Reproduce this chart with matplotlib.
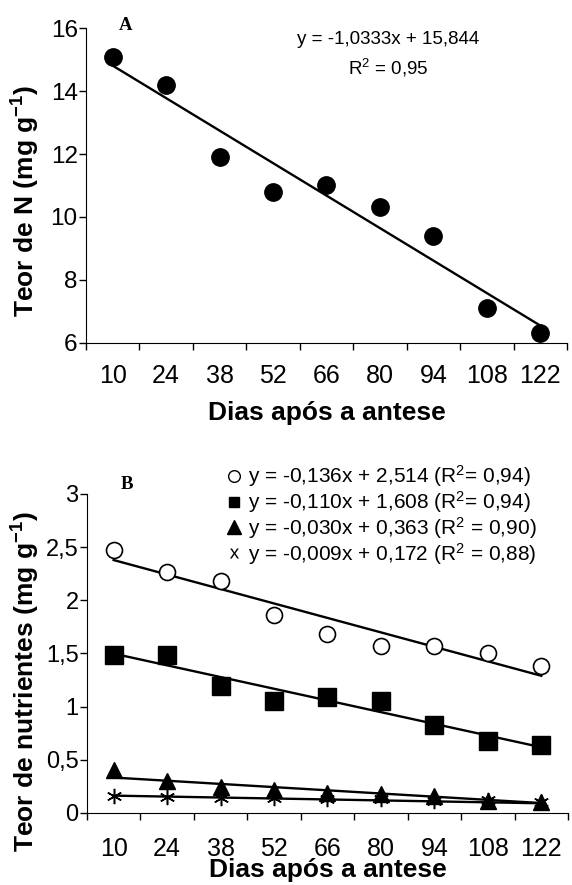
import numpy as np
import matplotlib
matplotlib.use("Agg")
import matplotlib.pyplot as plt
from matplotlib.lines import Line2D
from matplotlib.transforms import ScaledTranslation

plt.rcParams['font.family'] = ['Liberation Sans', 'DejaVu Sans']
plt.rcParams['mathtext.fontset'] = 'custom'
plt.rcParams['mathtext.rm'] = 'Liberation Sans'
plt.rcParams['mathtext.sf'] = 'Liberation Sans'
plt.rcParams['mathtext.it'] = 'Liberation Sans'
plt.rcParams['mathtext.bf'] = 'Liberation Sans:bold'

# days after anthesis (categories)
dias = ['10', '24', '38', '52', '66', '80', '94', '108', '122']

# panel A - N content
teor_n = [15.1, 14.2, 11.9, 10.8, 11.0, 10.3, 9.4, 7.1, 6.3]
eq_n = (-1.0333, 15.844)

# panel B - other nutrients
serie_circ = [2.47, 2.27, 2.18, 1.86, 1.68, 1.57, 1.57, 1.50, 1.38]
serie_quad = [1.49, 1.49, 1.19, 1.055, 1.09, 1.055, 0.83, 0.68, 0.635]
serie_tri = [0.40, 0.30, 0.24, 0.22, 0.19, 0.18, 0.16, 0.11, 0.10]
serie_ast = [0.16, 0.15, 0.14, 0.14, 0.13, 0.13, 0.11, 0.12, 0.10]
eq_circ = (-0.136, 2.514)
eq_quad = (-0.110, 1.608)
eq_tri = (-0.030, 0.363)
eq_ast = (-0.009, 0.172)
leg_txt = ['y = -0,136x + 2,514 (R$^2$= 0,94)',
           'y = -0,110x + 1,608 (R$^2$= 0,94)',
           'y = -0,030x + 0,363 (R$^2$ = 0,90)',
           'y = -0,009x + 0,172 (R$^2$ = 0,88)']

n = len(dias)
pos = np.arange(n) + 0.5
xnum = np.arange(1, n + 1)

fig = plt.figure(figsize=(5.72, 8.85), dpi=100)
shift = ScaledTranslation(4 / 100, 0, fig.dpi_scale_trans)


def style_axis(ax, ylim, yticks, yticklabels, ylabel, pad_x, ysize):
    ax.set_xlim(0, n)
    ax.set_ylim(*ylim)
    ax.spines['top'].set_visible(False)
    ax.spines['right'].set_visible(False)
    ax.set_xticks(np.arange(n + 1))
    ax.set_xticklabels([])
    ax.set_xticks(pos, minor=True)
    ax.set_xticklabels(dias, minor=True, fontsize=18)
    for lab in ax.get_xticklabels(minor=True):
        lab.set_transform(lab.get_transform() + shift)
    ax.tick_params(axis='x', which='minor', length=0, pad=pad_x)
    ax.tick_params(axis='x', which='major', length=5, width=1, direction='out')
    ax.set_yticks(yticks)
    ax.set_yticklabels(yticklabels, fontsize=ysize)
    ax.tick_params(axis='y', length=5, width=1, direction='out', pad=1)
    ax.set_ylabel(ylabel, fontsize=19, fontweight='bold')
    ax.set_xlabel('Dias após a antese', fontsize=19, fontweight='bold')


def reg_line(ax, eq):
    a, b = eq
    ax.plot([pos[0], pos[-1]], [a * xnum[0] + b, a * xnum[-1] + b],
            color='black', lw=1.7, zorder=2)


# ---- panel A ----
axA = fig.add_axes([0.1503, 0.6128, 0.8409, 0.3553])
axA.plot(pos, teor_n, 'o', color='black', ms=12.5, zorder=3)
reg_line(axA, eq_n)
style_axis(axA, (6, 16), [6, 8, 10, 12, 14, 16],
           ['6', '8', '10', '12', '14', '16'],
           r'Teor de N (mg g$^{\mathbf{-1}}$)', 15, 17.5)
axA.xaxis.labelpad = 10
axA.yaxis.set_label_coords(-0.0915, 0.45)
axA.text(0.069, 1.01, 'A', transform=axA.transAxes, fontsize=13.5,
         fontweight='bold', family='Liberation Serif', ha='left', va='center')
axA.text(0.628, 0.963, 'y = -1,0333x + 15,844', transform=axA.transAxes,
         fontsize=13.5, ha='center', va='center')
axA.text(0.628, 0.874, 'R$^2$ = 0,95', transform=axA.transAxes,
         fontsize=13.5, ha='center', va='center')

# ---- panel B ----
axB = fig.add_axes([0.152, 0.0814, 0.841, 0.3605])
axB.plot(pos, serie_circ, 'o', mfc='white', mec='black', mew=1.2,
         ms=11.5, zorder=3)
axB.plot(pos, serie_quad, 's', color='black', ms=12.5, zorder=3)
axB.plot(pos, serie_tri, '^', color='black', ms=11.3, zorder=3)
axB.plot(pos, serie_ast, marker=(6, 2, 0), ls='none', color='black',
         ms=11, mew=1.1, zorder=3)
for eq in (eq_circ, eq_quad, eq_tri, eq_ast):
    reg_line(axB, eq)
style_axis(axB, (0, 3), [0, 0.5, 1, 1.5, 2, 2.5, 3],
           ['0', '0,5', '1', '1,5', '2', '2,5', '3'],
           r'Teor de nutrientes (mg g$^{\mathbf{-1}}$)', 17, 17)
axB.xaxis.labelpad = -1.5
axB.yaxis.set_label_coords(-0.0936, 0.41)
axB.text(0.07, 1.03, 'B', transform=axB.transAxes, fontsize=13.5,
         fontweight='bold', family='Liberation Serif', ha='left', va='center')

lh1 = Line2D([], [], ls='none', marker='o', mfc='white', mec='black', ms=8.4, mew=1)
lh2 = Line2D([], [], ls='none', marker='s', color='black', ms=7)
lh3 = Line2D([], [], ls='none', marker='^', color='black', ms=9.6)
lh4 = Line2D([], [], ls='none', marker=r'$x$', color='black', ms=7.2, mew=0)
axB.legend([lh1, lh2, lh3, lh4], leg_txt, loc='upper left',
           bbox_to_anchor=(0.288, 1.096), frameon=False, fontsize=15,
           handlelength=0.8, handletextpad=0.3, labelspacing=0.0,
           borderpad=0, borderaxespad=0)

fig.savefig('out.png', dpi=100)
